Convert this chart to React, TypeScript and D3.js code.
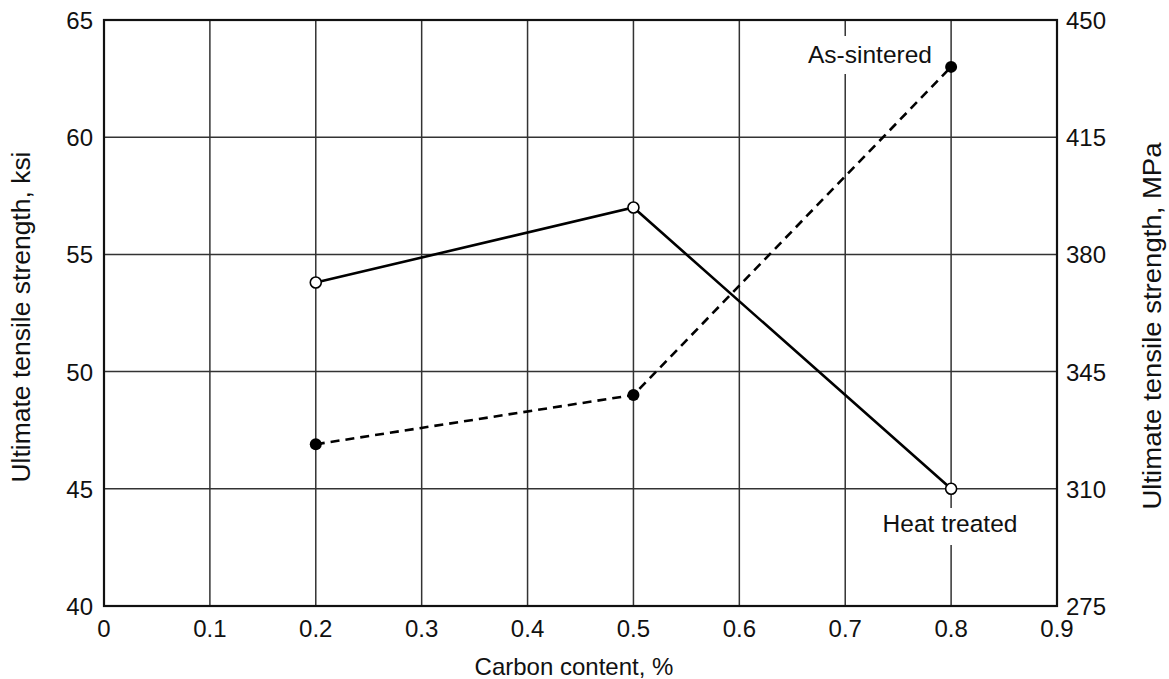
import React from "react";
import * as d3 from "d3";

const carbon = [0.2, 0.5, 0.8];
const heatTreated = [53.8, 57.0, 45.0];
const asSintered = [46.9, 49.0, 63.0];
const xTicks = [0, 0.1, 0.2, 0.3, 0.4, 0.5, 0.6, 0.7, 0.8, 0.9];
const yTicksKsi = [40, 45, 50, 55, 60, 65];
const yTicksMPa = [275, 310, 345, 380, 415, 450];

const W = 1169, H = 679;
const L = 104, R = 1057, T = 20, B = 606;
const FONT = "'Liberation Sans', Arial, sans-serif";

export default function App() {
  const x = d3.scaleLinear().domain([0, 0.9]).range([L, R]);
  const y = d3.scaleLinear().domain([40, 65]).range([B, T]);
  const y2 = d3.scaleLinear().domain([275, 450]).range([B, T]);
  const line = d3.line<number>().x((_, i) => x(carbon[i])).y((d) => y(d));

  return (
    <svg width={W} height={H} style={{ position: "absolute", left: 0, top: 0, background: "#fff" }}>
      <rect x={0} y={0} width={W} height={H} fill="#fff" />
      {/* grid */}
      {xTicks.slice(1, -1).map((t) => (
        <line key={"gx" + t} x1={x(t)} x2={x(t)} y1={T} y2={B} stroke="#333" strokeWidth={1.5} />
      ))}
      {yTicksKsi.slice(1, -1).map((t) => (
        <line key={"gy" + t} x1={L} x2={R} y1={y(t)} y2={y(t)} stroke="#333" strokeWidth={1.5} />
      ))}
      {/* label gaps */}
      <rect x={x(0.7) - 5} y={36} width={10} height={38} fill="#fff" />
      <rect x={x(0.8) - 5} y={508} width={10} height={37} fill="#fff" />
      {/* frame */}
      <rect x={L} y={T} width={R - L} height={B - T} fill="none" stroke="#111" strokeWidth={2.2} />
      {/* series */}
      <path d={line(asSintered) || ""} fill="none" stroke="#000" strokeWidth={2.6} strokeDasharray="9,6" />
      <path d={line(heatTreated) || ""} fill="none" stroke="#000" strokeWidth={2.6} />
      {asSintered.map((v, i) => (
        <circle key={"as" + i} cx={x(carbon[i])} cy={y(v)} r={6} fill="#000" />
      ))}
      {heatTreated.map((v, i) => (
        <circle key={"ht" + i} cx={x(carbon[i])} cy={y(v)} r={5.5} fill="#fff" stroke="#000" strokeWidth={1.6} />
      ))}
      {/* annotations */}
      <text x={870} y={63} textAnchor="middle" fontFamily={FONT} fontSize={24.5} fill="#111">As-sintered</text>
      <text x={950} y={532} textAnchor="middle" fontFamily={FONT} fontSize={24.5} fill="#111">Heat treated</text>
      {/* x ticks */}
      {xTicks.map((t) => (
        <text key={"xt" + t} x={x(t)} y={637} textAnchor="middle" fontFamily={FONT} fontSize={24} fill="#111">{String(t)}</text>
      ))}
      {/* left ticks */}
      {yTicksKsi.map((t) => (
        <text key={"yl" + t} x={93} y={y(t) + 9} textAnchor="end" fontFamily={FONT} fontSize={24} fill="#111">{t}</text>
      ))}
      {/* right ticks */}
      {yTicksMPa.map((t) => (
        <text key={"yr" + t} x={1066} y={y2(t) + 9} textAnchor="start" fontFamily={FONT} fontSize={24} fill="#111">{t}</text>
      ))}
      {/* axis titles */}
      <text x={574} y={675} textAnchor="middle" fontFamily={FONT} fontSize={24} fill="#111">Carbon content, %</text>
      <text transform={`translate(30, 317) rotate(-90)`} textAnchor="middle" fontFamily={FONT} fontSize={25} fill="#111" textLength={331} lengthAdjust="spacingAndGlyphs">Ultimate tensile strength, ksi</text>
      <text transform={`translate(1161, 326) rotate(-90)`} textAnchor="middle" fontFamily={FONT} fontSize={25} fill="#111" textLength={367} lengthAdjust="spacingAndGlyphs">Ultimate tensile strength, MPa</text>
    </svg>
  );
}
